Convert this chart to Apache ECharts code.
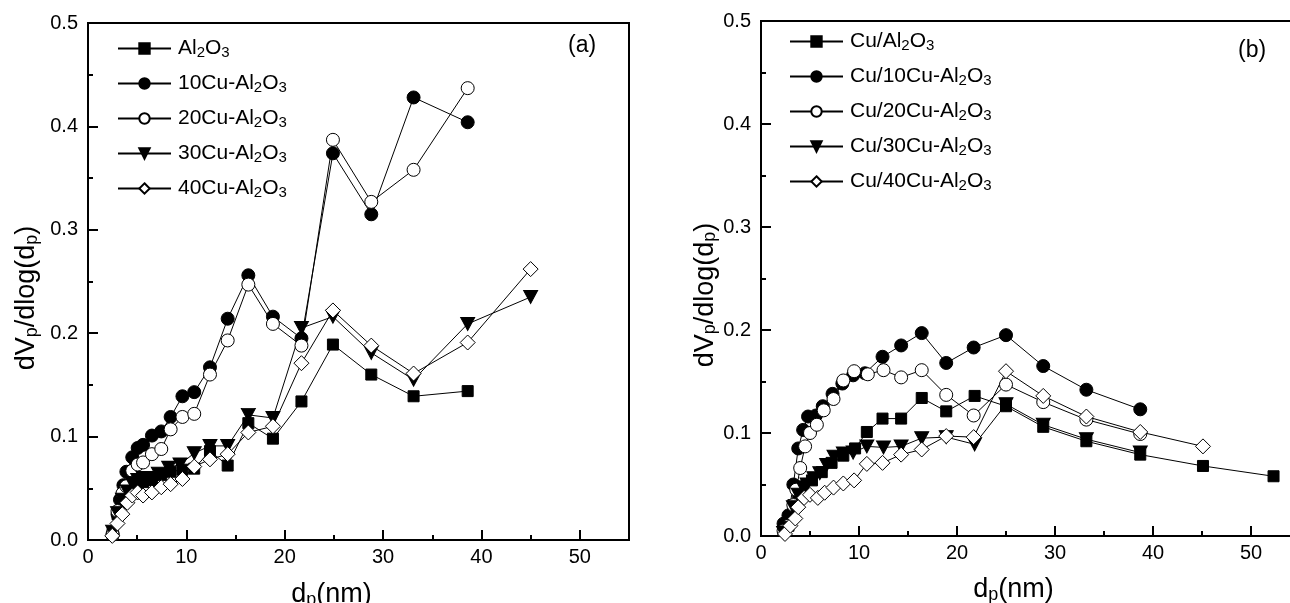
<!DOCTYPE html>
<html>
<head>
<meta charset="utf-8">
<script src="https://cdn.jsdelivr.net/npm/echarts@6/dist/echarts.min.js"></script>
<style>
html,body{margin:0;padding:0;background:#fff;}
#c{width:1290px;height:603px;}
</style>
</head>
<body>
<div id="c"></div>
<script>
// ---------- Data (x = pore diameter nm, y = dVp/dlog(dp)) ----------
// Panel (a)
const a_Al2O3 = [[2.5,0.006],[3.0,0.025],[3.5,0.042],[4.0,0.052],[4.5,0.055],[5.05,0.055],[5.6,0.056],[6.5,0.058],[7.45,0.063],[8.4,0.066],[9.6,0.068],[10.8,0.069],[12.4,0.086],[14.2,0.072],[16.3,0.113],[18.8,0.098],[21.7,0.134],[24.9,0.189],[28.8,0.160],[33.1,0.139],[38.6,0.144]];
const a_10Cu = [[2.5,0.006],[3.0,0.025],[3.25,0.039],[3.6,0.053],[3.9,0.066],[4.5,0.080],[5.05,0.089],[5.6,0.092],[6.5,0.101],[7.45,0.105],[8.4,0.119],[9.6,0.139],[10.8,0.143],[12.4,0.167],[14.2,0.214],[16.3,0.256],[18.8,0.216],[21.7,0.195],[24.9,0.374],[28.8,0.315],[33.1,0.428],[38.6,0.404]];
const a_20Cu = [[2.5,0.005],[3.0,0.028],[3.5,0.045],[3.9,0.052],[4.5,0.067],[5.05,0.073],[5.6,0.075],[6.5,0.083],[7.45,0.088],[8.4,0.107],[9.6,0.119],[10.8,0.122],[12.4,0.160],[14.2,0.193],[16.3,0.247],[18.8,0.209],[21.7,0.188],[24.9,0.387],[28.8,0.327],[33.1,0.358],[38.6,0.437]];
const a_30Cu = [[2.5,0.008],[3.0,0.026],[3.5,0.039],[4.0,0.047],[4.5,0.055],[5.05,0.058],[5.6,0.060],[6.3,0.060],[7.15,0.064],[8.2,0.070],[9.35,0.073],[10.8,0.084],[12.4,0.091],[14.2,0.091],[16.3,0.121],[18.8,0.118],[21.7,0.205],[24.9,0.216],[28.8,0.181],[33.1,0.155],[38.6,0.209],[45.0,0.235]];
const a_40Cu = [[2.47,0.004],[3.0,0.016],[3.49,0.025],[4.0,0.036],[4.5,0.043],[5.05,0.046],[5.6,0.043],[6.5,0.046],[7.45,0.051],[8.4,0.054],[9.6,0.059],[10.8,0.071],[12.4,0.078],[14.2,0.083],[16.3,0.104],[18.8,0.110],[21.7,0.171],[24.9,0.222],[28.8,0.188],[33.1,0.161],[38.6,0.191],[45.0,0.262]];
// Panel (b)
const b_Al2O3 = [[2.3,0.005],[2.8,0.010],[3.3,0.030],[3.8,0.042],[4.3,0.048],[5.2,0.054],[6.2,0.062],[7.2,0.071],[8.4,0.078],[9.6,0.085],[10.8,0.101],[12.4,0.114],[14.3,0.114],[16.4,0.134],[18.9,0.121],[21.8,0.136],[25.0,0.126],[28.8,0.106],[33.2,0.092],[38.7,0.079],[45.1,0.068],[52.3,0.058]];
const b_10Cu = [[2.3,0.012],[2.8,0.020],[3.3,0.050],[3.8,0.085],[4.3,0.103],[4.8,0.116],[5.6,0.117],[6.3,0.126],[7.3,0.138],[8.3,0.148],[9.4,0.156],[10.6,0.158],[12.4,0.174],[14.3,0.185],[16.4,0.197],[18.9,0.168],[21.7,0.183],[25.0,0.195],[28.8,0.165],[33.2,0.142],[38.7,0.123]];
const b_20Cu = [[2.3,0.005],[2.8,0.010],[3.3,0.030],[3.6,0.045],[4.0,0.066],[4.5,0.087],[5.0,0.100],[5.7,0.108],[6.4,0.122],[7.4,0.133],[8.4,0.151],[9.5,0.160],[10.9,0.157],[12.5,0.161],[14.3,0.154],[16.4,0.161],[18.9,0.137],[21.7,0.117],[25.0,0.147],[28.8,0.130],[33.2,0.113],[38.7,0.099]];
const b_30Cu = [[2.3,0.003],[2.8,0.008],[3.3,0.028],[3.8,0.040],[4.3,0.047],[4.7,0.050],[5.4,0.056],[6.0,0.061],[6.7,0.069],[7.45,0.077],[8.4,0.080],[9.4,0.081],[10.8,0.087],[12.5,0.086],[14.3,0.087],[16.4,0.095],[18.9,0.096],[21.8,0.089],[25.0,0.128],[28.8,0.108],[33.2,0.094],[38.7,0.081]];
const b_40Cu = [[2.45,0.002],[3.0,0.010],[3.5,0.017],[3.8,0.028],[4.4,0.037],[5.0,0.040],[5.8,0.037],[6.5,0.042],[7.4,0.047],[8.4,0.051],[9.5,0.054],[10.8,0.070],[12.4,0.071],[14.3,0.079],[16.4,0.084],[18.9,0.097],[21.7,0.096],[25.0,0.160],[28.8,0.136],[33.2,0.116],[38.7,0.101],[45.1,0.087]];

const namesA = ['Al2O3','10Cu-Al2O3','20Cu-Al2O3','30Cu-Al2O3','40Cu-Al2O3'];
const namesB = ['Cu/Al2O3','Cu/10Cu-Al2O3','Cu/20Cu-Al2O3','Cu/30Cu-Al2O3','Cu/40Cu-Al2O3'];
const xTicks = {min:0, max:55, interval:10};
const yTicks = {min:0, max:0.5, interval:0.1};

// ---------- Styling ----------
const FONT = 'Liberation Sans, Arial, sans-serif';
function subStyle(fs, pad){ return {sub:{fontSize:fs, fontFamily:FONT, color:'#000', verticalAlign:'bottom', padding:[pad,0,0,0]}}; }
function richName(n){ return n.replace(/(\D)2O3/g,'$1{sub|2}O{sub|3}'); }

const markers = [
  {symbol:'rect', size:11, fill:'#000'},
  {symbol:'circle', size:13, fill:'#000'},
  {symbol:'circle', size:13, fill:'#fff'},
  {symbol:'path://M0,0 L10,0 L5,9 Z', size:[14,13], fill:'#000'},
  {symbol:'diamond', size:15, fill:'#fff'}
];

function mkSeries(names, datas, gi){
  return datas.map((d,i)=>({
    type:'line', name:names[i], xAxisIndex:gi, yAxisIndex:gi,
    data:d, symbol:markers[i].symbol, symbolSize:markers[i].size,
    showAllSymbol:true, animation:false,
    lineStyle:{color:'#000', width:1},
    itemStyle:{color:markers[i].fill, borderColor:'#000', borderWidth:1, opacity:1},
    emphasis:{disabled:true}
  }));
}

function xAx(gi, gap, shift){
  return {gridIndex:gi, type:'value', min:xTicks.min, max:xTicks.max, interval:xTicks.interval,
    name:'d{sub|p}(nm)', nameLocation:'middle', nameGap:gap,
    nameTextStyle:{fontSize:27, fontFamily:FONT, color:'#000', padding:[0,shift,0,0], rich:subStyle(18,10)},
    axisLine:{show:true, onZero:false, lineStyle:{color:'#000', width:2}},
    axisTick:{show:true, inside:true, length:10, lineStyle:{color:'#000', width:2}},
    minorTick:{show:true, splitNumber:2, length:5, lineStyle:{color:'#000', width:2}},
    splitLine:{show:false},
    axisLabel:{color:'#000', fontSize:20, fontFamily:FONT, margin:7, showMaxLabel:false}
  };
}
function yAx(gi, gap){
  return {gridIndex:gi, type:'value', min:yTicks.min, max:yTicks.max, interval:yTicks.interval,
    name:'dV{sub|p}/dlog(d{sub|p})', nameLocation:'middle', nameGap:gap,
    nameTextStyle:{fontSize:27, fontFamily:FONT, color:'#000', padding:[0,33,0,0], rich:subStyle(18,10)},
    axisLine:{show:true, onZero:false, lineStyle:{color:'#000', width:2}},
    axisTick:{show:true, inside:true, length:10, lineStyle:{color:'#000', width:2}},
    minorTick:{show:true, splitNumber:2, length:5, lineStyle:{color:'#000', width:2}},
    splitLine:{show:false},
    axisLabel:{color:'#000', fontSize:20, fontFamily:FONT, margin:10, formatter:v=>v.toFixed(1)}
  };
}
function legend(names, left, top){
  return {orient:'vertical', left:left, top:top, itemWidth:53, itemHeight:13, itemGap:13,
    data:names, formatter:n=>richName(n), selectedMode:false,
    textStyle:{fontSize:21, fontFamily:FONT, color:'#000', padding:[0,0,0,2], rich:subStyle(15,8)}};
}

const chart = echarts.init(document.getElementById('c'), null, {renderer:'canvas'});
chart.setOption({
  backgroundColor:'#fff',
  animation:false,
  grid:[
    {left:88, top:23, width:541, height:517, show:true, borderColor:'#000', borderWidth:2, outerBoundsMode:'none', containLabel:false},
    {left:761, top:21, width:539, height:515, show:true, borderColor:'#000', borderWidth:2, outerBoundsMode:'none', containLabel:false}
  ],
  xAxis:[xAx(0, 41, 54), xAx(1, 40, 34)],
  yAxis:[yAx(0, 47), yAx(1, 38)],
  legend:[legend(namesA, 112, 33), legend(namesB, 784, 26)],
  graphic:[
    {type:'text', left:568, top:34, style:{text:'(a)', fontSize:23, fontFamily:FONT, fill:'#000'}},
    {type:'text', left:1238, top:39, style:{text:'(b)', fontSize:23, fontFamily:FONT, fill:'#000'}}
  ],
  series:[
    ...mkSeries(namesA, [a_Al2O3,a_10Cu,a_20Cu,a_30Cu,a_40Cu], 0),
    ...mkSeries(namesB, [b_Al2O3,b_10Cu,b_20Cu,b_30Cu,b_40Cu], 1)
  ]
});
</script>
</body>
</html>
